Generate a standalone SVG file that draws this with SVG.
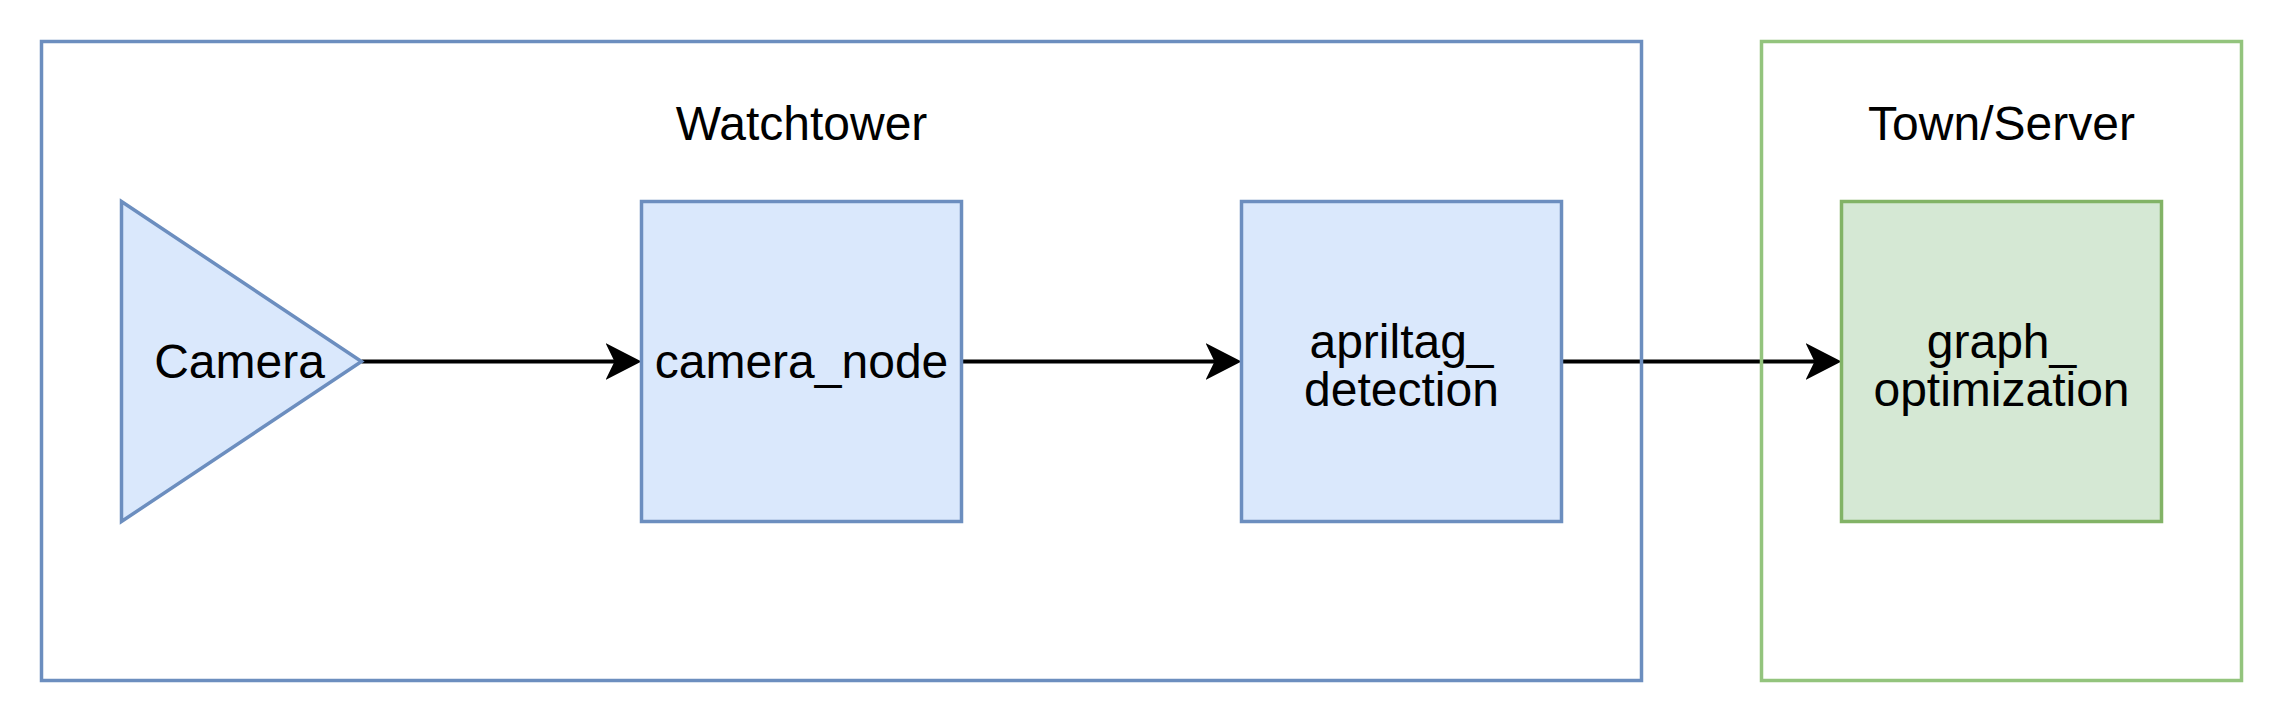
<svg xmlns="http://www.w3.org/2000/svg" width="2284" height="724" viewBox="0 0 2284 724">
<style>
.container{fill:none;stroke-width:3.5}
.blue{fill:#dae8fc;stroke:#6c8ebf;stroke-width:3.5}
.green{fill:#d5e8d4;stroke:#82b366;stroke-width:3.5}
.lbl{font-family:"Liberation Sans",Arial,Helvetica,sans-serif;font-size:48px;fill:#000;text-anchor:middle}
.edge{stroke:#000;stroke-width:4;fill:none}
</style>
<defs>
<marker id="arrow" markerUnits="userSpaceOnUse" viewBox="0 0 36 37" refX="16" refY="18.5" markerWidth="36" markerHeight="37" orient="auto">
<path d="M36,18.5 L0,0 L9,18.5 L0,37 Z" fill="#000"/>
</marker>
</defs>
<rect width="2284" height="724" fill="#fff"/>
<g id="connectors">
<line class="edge" x1="361.5" y1="361.5" x2="621.5" y2="361.5" marker-end="url(#arrow)"/>
<line class="edge" x1="961.5" y1="361.5" x2="1221.5" y2="361.5" marker-end="url(#arrow)"/>
<line class="edge" x1="1561.5" y1="361.5" x2="1821.5" y2="361.5" marker-end="url(#arrow)"/>
</g>
<g id="watchtower">
<rect class="container" x="41.5" y="41.5" width="1600" height="639" stroke="#6c8ebf"/>
<text class="lbl" x="801.5" y="140">Watchtower</text>
</g>
<g id="town-server">
<rect class="container" x="1761.5" y="41.5" width="480" height="639" stroke="#93c47d"/>
<text class="lbl" x="2001.5" y="140">Town/Server</text>
</g>
<g id="camera">
<polygon class="blue" points="121.5,201.5 361.5,361.5 121.5,521.5"/>
<text class="lbl" x="239.5" y="378">Camera</text>
</g>
<g id="camera_node">
<rect class="blue" x="641.5" y="201.5" width="320" height="320"/>
<text class="lbl" x="801.5" y="378">camera_node</text>
</g>
<g id="apriltag_detection">
<rect class="blue" x="1241.5" y="201.5" width="320" height="320"/>
<text class="lbl" x="1401.5" y="358">apriltag_</text>
<text class="lbl" x="1401.5" y="406">detection</text>
</g>
<g id="graph_optimization">
<rect class="green" x="1841.5" y="201.5" width="320" height="320"/>
<text class="lbl" x="2001.5" y="358">graph_</text>
<text class="lbl" x="2001.5" y="406">optimization</text>
</g>
</svg>
